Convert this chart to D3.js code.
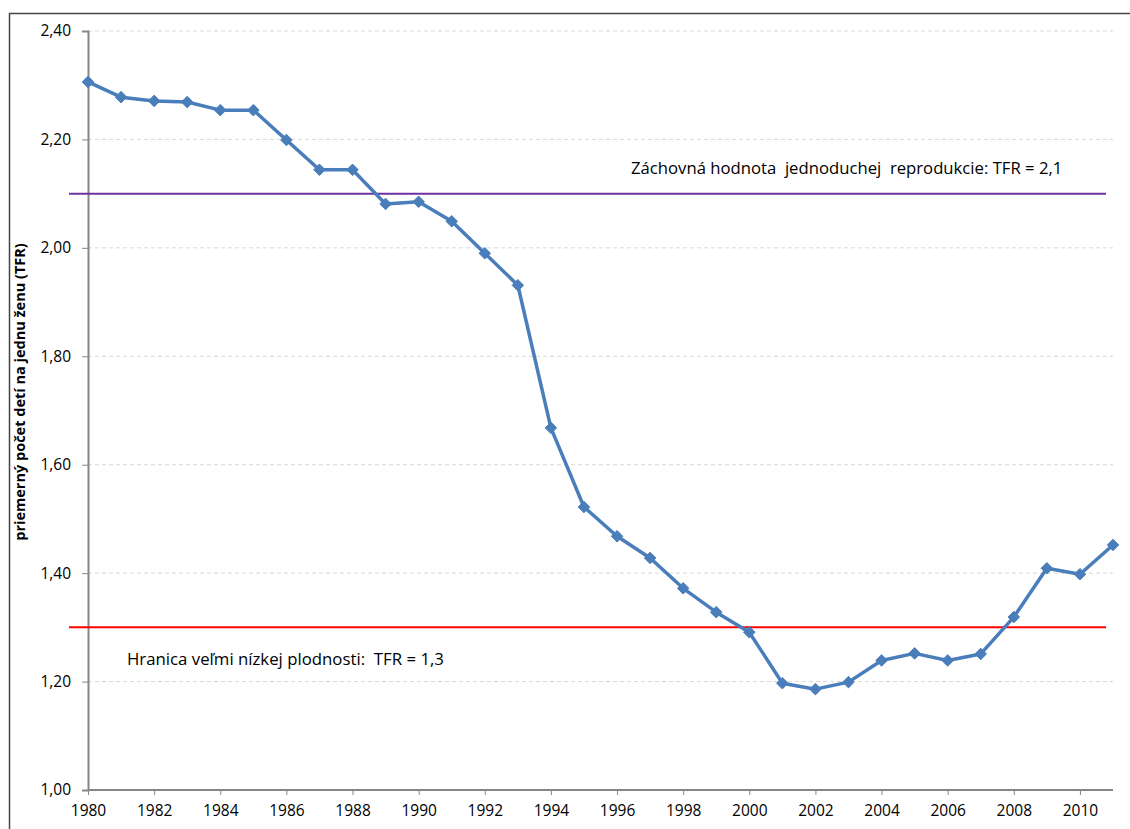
<!DOCTYPE html>
<html>
<head>
<meta charset="utf-8">
<script src="https://cdn.jsdelivr.net/npm/d3@7"></script>
<style>
  body { margin: 0; background: #fff; }
  svg { display: block; font-family: "Open Sans", "Noto Sans", sans-serif; }
</style>
</head>
<body>
<div id="viz-container"></div>
<script>
// data
let years = [1980,1981,1982,1983,1984,1985,1986,1987,1988,1989,1990,1991,1992,1993,1994,1995,
  1996,1997,1998,1999,2000,2001,2002,2003,2004,2005,2006,2007,2008,2009,2010,2011];
let tfr = [2.306,2.278,2.271,2.269,2.254,2.254,2.199,2.144,2.144,2.081,2.085,2.049,1.990,1.931,1.668,1.522,
  1.468,1.428,1.372,1.328,1.291,1.197,1.186,1.199,1.239,1.252,1.239,1.251,1.319,1.409,1.398,1.452];
let yTicks = [1.0,1.2,1.4,1.6,1.8,2.0,2.2,2.4];
let xTicks = [1980,1982,1984,1986,1988,1990,1992,1994,1996,1998,2000,2002,2004,2006,2008,2010];
let refLines = [
  {value: 2.1, color: "#7030a0", label: "Záchovná hodnota  jednoduchej  reprodukcie: TFR = 2,1"},
  {value: 1.3, color: "#ff0000", label: "Hranica veľmi nízkej plodnosti:  TFR = 1,3"}
];

let W = 1130, H = 829;
let viz = d3.select("#viz-container")
  .append("svg")
    .attr("width", W)
    .attr("height", H)
;

// outer chart frame (cut at right and bottom)
viz.append("rect")
  .attr("x", 9.5).attr("y", 13.5)
  .attr("width", W + 20).attr("height", H + 20)
  .attr("fill", "none")
  .attr("stroke", "#444")
  .attr("stroke-width", 1.5)
;

let x = d3.scaleLinear().domain([1980, 2011]).range([88, 1113]);
let y = d3.scaleLinear().domain([1.0, 2.4]).range([790, 31]);

// gridlines
viz.append("g")
  .selectAll("line").data(yTicks.filter(d => d > 1.0)).enter()
  .append("line")
    .attr("x1", 88).attr("x2", 1113)
    .attr("y1", d => y(d)).attr("y2", d => y(d))
    .attr("stroke", "#d9d9d9")
    .attr("stroke-dasharray", "4,3")
;

// y axis
let yAxis = viz.append("g")
  .attr("transform", "translate(88,0)")
  .call(d3.axisLeft(y).tickValues(yTicks).tickSize(6).tickPadding(11)
    .tickFormat(d => d3.format(".2f")(d).replace(".", ",")))
;
// x axis
let xAxis = viz.append("g")
  .attr("transform", "translate(0,790)")
  .call(d3.axisBottom(x).tickValues(xTicks).tickSize(5).tickPadding(10).tickFormat(d3.format("d")))
;
[yAxis, xAxis].forEach(function(ax){
  ax.select(".domain").attr("stroke", "#868686").attr("stroke-width", 2);
  ax.selectAll(".tick line").attr("stroke", "#868686");
  ax.selectAll(".tick text")
    .attr("fill", "#000")
    .attr("font-size", 15.5)
    .attr("font-family", "'Open Sans', sans-serif");
});
xAxis.select(".domain").attr("d", "M88,0H1113");

// reference lines
viz.append("g")
  .selectAll("line").data(refLines).enter()
  .append("line")
    .attr("x1", 69).attr("x2", 1106)
    .attr("y1", d => y(d.value)).attr("y2", d => y(d.value))
    .attr("stroke", d => d.color)
    .attr("stroke-width", 2)
;
viz.append("text")
  .attr("x", 631).attr("y", 174)
  .attr("font-size", 16.7)
  .attr("xml:space", "preserve")
  .style("white-space", "pre")
  .text(refLines[0].label)
;
viz.append("text")
  .attr("x", 127).attr("y", 665)
  .attr("font-size", 16.8)
  .attr("xml:space", "preserve")
  .style("white-space", "pre")
  .text(refLines[1].label)
;

// series line
let line = d3.line()
  .x((d, i) => x(years[i]))
  .y(d => y(d));
viz.append("path")
  .datum(tfr)
  .attr("d", line)
  .attr("fill", "none")
  .attr("stroke", "#4a7ebb")
  .attr("stroke-width", 3.5)
  .attr("stroke-linejoin", "round")
;
viz.append("g")
  .selectAll("path").data(tfr).enter()
  .append("path")
    .attr("d", d3.symbol().type(d3.symbolDiamond2).size(85))
    .attr("transform", (d, i) => "translate(" + x(years[i]) + "," + y(d) + ")")
    .attr("fill", "#4a7ebb")
    .attr("stroke", "#4a7ebb")
    .attr("stroke-width", 1)
;

// y axis title
viz.append("text")
  .attr("transform", "translate(25,392) rotate(-90)")
  .attr("text-anchor", "middle")
  .attr("font-size", 14.5)
  .attr("font-weight", "bold")
  .text("priemerný počet detí na jednu ženu (TFR)")
;
</script>
</body>
</html>
